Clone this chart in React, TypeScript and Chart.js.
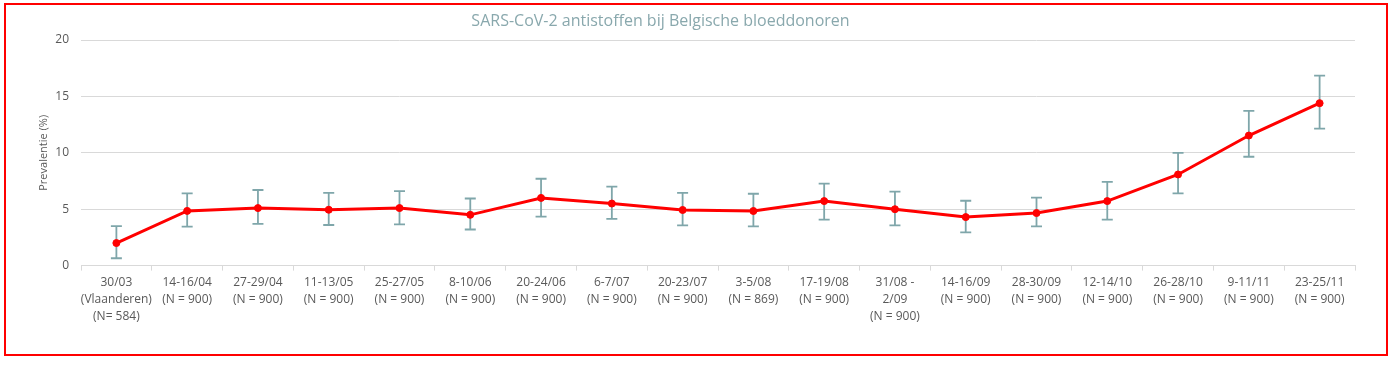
import React, { useEffect, useRef } from "react";
import { Chart, registerables } from "chart.js";

Chart.register(...registerables);

const chartTitle = "SARS-CoV-2 antistoffen bij Belgische bloeddonoren";
const yAxisTitle = "Prevalentie (%)";

const categories: (string | string[])[] = [
  ["30/03", "(Vlaanderen)", "(N= 584)"],
  ["14-16/04", "(N = 900)"],
  ["27-29/04", "(N = 900)"],
  ["11-13/05", "(N = 900)"],
  ["25-27/05", "(N = 900)"],
  ["8-10/06", "(N = 900)"],
  ["20-24/06", "(N = 900)"],
  ["6-7/07", "(N = 900)"],
  ["20-23/07", "(N = 900)"],
  ["3-5/08", "(N = 869)"],
  ["17-19/08", "(N = 900)"],
  ["31/08 -", "2/09", "(N = 900)"],
  ["14-16/09", "(N = 900)"],
  ["28-30/09", "(N = 900)"],
  ["12-14/10", "(N = 900)"],
  ["26-28/10", "(N = 900)"],
  ["9-11/11", "(N = 900)"],
  ["23-25/11", "(N = 900)"],
];

const prevalence = [2.0, 4.85, 5.1, 4.95, 5.1, 4.5, 6.0, 5.5, 4.93, 4.84, 5.72, 5.0, 4.3, 4.66, 5.72, 8.08, 11.53, 14.4];
const lowerCI = [0.65, 3.45, 3.7, 3.6, 3.65, 3.2, 4.35, 4.15, 3.57, 3.48, 4.07, 3.57, 2.95, 3.48, 4.07, 6.4, 9.65, 12.15];
const upperCI = [3.5, 6.4, 6.7, 6.45, 6.6, 5.95, 7.7, 7.0, 6.45, 6.37, 7.26, 6.55, 5.75, 6.02, 7.43, 10.0, 13.72, 16.84];

const FONT = "'Open Sans', 'Noto Sans', sans-serif";

const errorBarPlugin = {
  id: "errorBars",
  beforeDatasetsDraw(chart: any) {
    const x = chart.scales.x;
    const y = chart.scales.y;
    const ctx = chart.ctx;
    ctx.save();
    ctx.strokeStyle = "#7fa6aa";
    ctx.lineWidth = 1.8;
    const cap = 5.5;
    prevalence.forEach((_, i) => {
      const px = x.getPixelForValue(i);
      const yl = y.getPixelForValue(lowerCI[i]);
      const yu = y.getPixelForValue(upperCI[i]);
      ctx.beginPath();
      ctx.moveTo(px, yu);
      ctx.lineTo(px, yl);
      ctx.moveTo(px - cap, yu);
      ctx.lineTo(px + cap, yu);
      ctx.moveTo(px - cap, yl);
      ctx.lineTo(px + cap, yl);
      ctx.stroke();
    });
    ctx.restore();
  },
};

const titlePlugin = {
  id: "offsetTitle",
  afterDraw(chart: any) {
    const ctx = chart.ctx;
    ctx.save();
    ctx.fillStyle = "#89a8ad";
    ctx.font = `16px ${FONT}`;
    ctx.textAlign = "center";
    ctx.textBaseline = "middle";
    ctx.fillText(chartTitle, 660.5, 21);
    ctx.restore();
  },
};

export default function App() {
  const ref = useRef<HTMLCanvasElement>(null);
  useEffect(() => {
    if (!ref.current) return;
    const chart = new Chart(ref.current, {
      type: "line",
      data: {
        labels: categories,
        datasets: [
          {
            label: "Prevalentie",
            data: prevalence,
            borderColor: "#ff0000",
            backgroundColor: "#ff0000",
            borderWidth: 3,
            pointRadius: 3.5,
            pointBorderWidth: 1,
            pointBackgroundColor: "#ff0000",
            tension: 0,
          },
        ],
      },
      options: {
        responsive: false,
        animation: false,
        layout: { padding: { left: 37.5, right: 38, top: 40, bottom: 36 } },
        plugins: {
          legend: { display: false },
          tooltip: { enabled: false },
          title: { display: false },
        },
        scales: {
          x: {
            offset: true,
            grid: {
              display: true,
              offset: true,
              drawOnChartArea: false,
              drawTicks: true,
              tickLength: 5,
              color: "#d9d9d9",
            },
            border: { display: true, color: "#d9d9d9" },
            ticks: {
              color: "#595959",
              font: { family: FONT, size: 12, lineHeight: 1.4 },
              maxRotation: 0,
              autoSkip: false,
              padding: 4,
            },
          },
          y: {
            min: 0,
            max: 20,
            afterFit: (s: any) => {
              s.width = 43.5;
            },
            ticks: {
              stepSize: 5,
              color: "#595959",
              font: { family: FONT, size: 12 },
              padding: 12,
            },
            grid: { color: "#d9d9d9", drawTicks: false },
            border: { display: false },
            title: {
              display: true,
              text: yAxisTitle,
              color: "#595959",
              font: { family: FONT, size: 11 },
              padding: { top: 0, bottom: 4 },
            },
          },
        },
      },
      plugins: [errorBarPlugin, titlePlugin],
    });
    return () => chart.destroy();
  }, []);
  return (
    <div style={{ position: "absolute", left: 0, top: 0, width: 1393, height: 365 }}>
      <canvas ref={ref} width={1393} height={365} style={{ position: "absolute", left: 0, top: 0 }} />
      <div
        style={{
          position: "absolute",
          left: 4,
          top: 3,
          width: 1384,
          height: 353,
          border: "2px solid #ff0000",
          boxSizing: "border-box",
          pointerEvents: "none",
        }}
      />
    </div>
  );
}
